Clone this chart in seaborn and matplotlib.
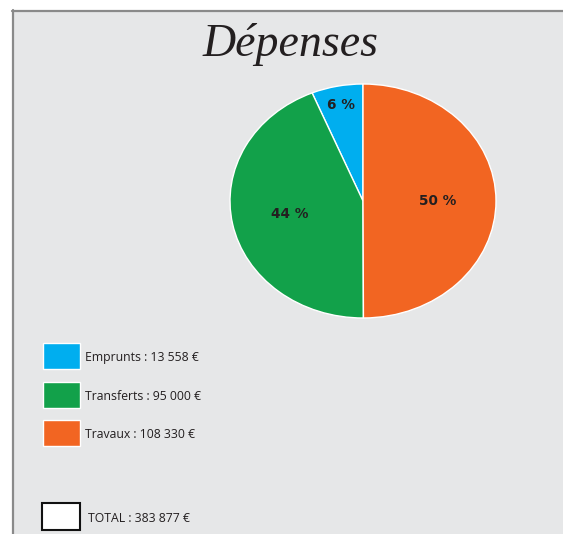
import numpy as np
import matplotlib
matplotlib.use("Agg")
import matplotlib.pyplot as plt
from matplotlib.patches import Rectangle
import seaborn as sns

# ---- data ----
categories = ["Emprunts", "Transferts", "Travaux"]
values = [13558, 95000, 108330]
total_label = "TOTAL"
total_value = 383877
title = "Dépenses"
colors = ["#00AEEF", "#12A14A", "#F26522"]

sns.set_theme(style="white")
plt.rcParams["font.family"] = ["Open Sans", "DejaVu Sans"]

W, H = 563, 534
fig = plt.figure(figsize=(W / 100, H / 100), dpi=100)
fig.patch.set_facecolor("white")

def fx(px):
    return px / W

def fy(py):
    return 1 - py / H

# panel background with top/left border
fig.add_artist(Rectangle((fx(12), 0), 1, fy(10), transform=fig.transFigure,
                         facecolor="#E6E7E8", edgecolor="none", zorder=0))
fig.add_artist(plt.Line2D([fx(12), 1], [fy(10.5), fy(10.5)], transform=fig.transFigure,
                          color="#8a8a8a", lw=1.6, zorder=1))
fig.add_artist(plt.Line2D([fx(12.5), fx(12.5)], [0, fy(10)], transform=fig.transFigure,
                          color="#8a8a8a", lw=1.6, zorder=1))

# title
fig.text(fx(291), fy(44), title, ha="center", va="center", fontsize=33,
         family="Liberation Serif", style="italic", color="#231F20")

# pie (elliptical)
ax = fig.add_axes([fx(230), fy(318), fx(496) - fx(230), (318 - 84) / H])
wedges, texts, autotexts = ax.pie(
    values, colors=colors, startangle=90, counterclock=True,
    autopct=lambda p: f"{p:.0f} %", pctdistance=0.56,
    wedgeprops=dict(edgecolor="white", linewidth=1.0),
    textprops=dict(fontsize=9.8, fontweight="bold", color="#231F20",
                   family=["DejaVu Sans"]),
)
ax.set_aspect("auto")
ax.set_xlim(-1.0, 1.0)
ax.set_ylim(-1.0, 1.0)
ax.axis("off")
# small wedge label pushed outward
w0 = wedges[0]
ang = np.deg2rad((w0.theta1 + w0.theta2) / 2)
autotexts[0].set_position((0.84 * np.cos(ang), 0.84 * np.sin(ang)))

# legend
def fmt(v):
    return f"{v:,}".replace(",", " ")

ytops = [343, 382, 420]
for cat, val, col, yt in zip(categories, values, colors, ytops):
    fig.add_artist(Rectangle((fx(43), fy(yt + 26)), fx(80) - fx(43), 26 / H,
                             transform=fig.transFigure, facecolor=col,
                             edgecolor="white", lw=1.0, zorder=2))
    fig.text(fx(85), fy(yt + 14), f"{cat} : {fmt(val)} €", ha="left", va="center",
             fontsize=8.8, color="#231F20")

fig.add_artist(Rectangle((fx(42), fy(530)), fx(80) - fx(42), 27 / H,
                         transform=fig.transFigure, facecolor="white",
                         edgecolor="#111111", lw=1.5, zorder=2))
fig.text(fx(88), fy(519), f"{total_label} : {fmt(total_value)} €", ha="left",
         va="center", fontsize=8.8, color="#231F20")

fig.savefig("out.png", dpi=100)
